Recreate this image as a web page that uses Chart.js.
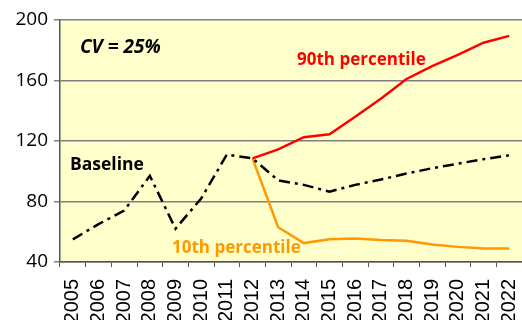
<!DOCTYPE html>
<html>
<head>
<meta charset="utf-8">
<script src="https://cdn.jsdelivr.net/npm/chart.js@4"></script>
<style>
  html, body { margin: 0; padding: 0; background: #fff; }
  #wrap { width: 522px; height: 320px; position: relative; }
</style>
</head>
<body>
<div id="wrap"><canvas id="chartCanvas"></canvas></div>
<script>
const years = ['2005', '2006', '2007', '2008', '2009', '2010', '2011', '2012', '2013',
    '2014', '2015', '2016', '2017', '2018', '2019', '2020', '2021', '2022'];

const baseline = [55, 65, 74, 97, 62, 82, 111, 108.5, 94, 91, 86.5, 91, 94.5, 98.5, 102, 105, 108, 110.5];
const p90 = [null, null, null, null, null, null, null, 108.5, 114.5, 122.5, 124.5, 136, 148, 161, 169.5, 177, 185, 189.5];
const p10 = [null, null, null, null, null, null, null, 108.5, 63, 52.5, 55, 55.5, 54.5, 54, 51.5, 50, 49, 49];

const yTicks = [40, 80, 120, 160, 200];

// text labels drawn inside the plot
const notes = [
    { text: 'CV = 25%', x: 20, y: 28, color: '#000', font: 'italic bold 19px "Open Sans"' },
    { text: '90th percentile', x: 237, y: 40, color: '#FF0000', font: 'bold 17px "Open Sans"' },
    { text: 'Baseline', x: 10, y: 145, color: '#000', font: 'bold 17.5px "Open Sans"' },
    { text: '10th percentile', x: 112, y: 228, color: '#FF9900', font: 'bold 17px "Open Sans"' }
];

const plotBackground = {
    id: 'plotBackground',
    beforeDraw(chart) {
        const { ctx, chartArea: a } = chart;
        ctx.save();
        ctx.fillStyle = '#FFFFCC';
        ctx.fillRect(a.left, a.top, a.right - a.left, a.bottom - a.top);
        ctx.restore();
    },
    afterDatasetsDraw(chart) {
        const { ctx, chartArea: a } = chart;
        ctx.save();
        ctx.textBaseline = 'middle';
        notes.forEach(n => {
            ctx.font = n.font;
            ctx.fillStyle = n.color;
            ctx.fillText(n.text, a.left + n.x, a.top + n.y);
        });
        ctx.restore();
    }
};

const chart = new Chart(document.getElementById('chartCanvas'), {
    type: 'line',
    data: {
        labels: years,
        datasets: [
            {
                label: 'Baseline',
                data: baseline,
                borderColor: '#000',
                borderWidth: 2.5,
                borderDash: [11, 5, 3, 5],
                pointRadius: 0,
                tension: 0
            },
            {
                label: '90th percentile',
                data: p90,
                borderColor: '#FF0000',
                borderWidth: 2.5,
                pointRadius: 0,
                tension: 0
            },
            {
                label: '10th percentile',
                data: p10,
                borderColor: '#FF9900',
                borderWidth: 2.5,
                pointRadius: 0,
                tension: 0
            }
        ]
    },
    options: {
        responsive: true,
        maintainAspectRatio: false,
        animation: false,
        layout: { padding: { top: 20, right: 0, left: 0, bottom: 0 } },
        plugins: {
            legend: { display: false },
            tooltip: { enabled: false }
        },
        scales: {
            x: {
                offset: true,
                grid: {
                    offset: true,
                    drawOnChartArea: false,
                    drawTicks: true,
                    tickLength: 5,
                    color: '#555'
                },
                border: { color: '#555', width: 1.5 },
                ticks: {
                    minRotation: 90,
                    maxRotation: 90,
                    autoSkip: false,
                    padding: 12,
                    color: '#000',
                    font: { family: 'Liberation Sans', size: 20 }
                },
                afterFit(scale) {
                    scale.height = 58;
                    scale.paddingLeft = 0;
                    scale.paddingRight = 0;
                }
            },
            y: {
                min: 40,
                max: 200,
                afterBuildTicks(scale) { scale.ticks = yTicks.map(v => ({ value: v })); },
                grid: {
                    color: '#808080',
                    lineWidth: 1.5,
                    tickLength: 6
                },
                border: { color: '#555', width: 1.5 },
                ticks: {
                    padding: 6,
                    color: '#000',
                    font: { family: 'Open Sans', size: 19 }
                },
                afterFit(scale) { scale.width = 60; }
            }
        }
    },
    plugins: [plotBackground]
});
</script>
</body>
</html>
